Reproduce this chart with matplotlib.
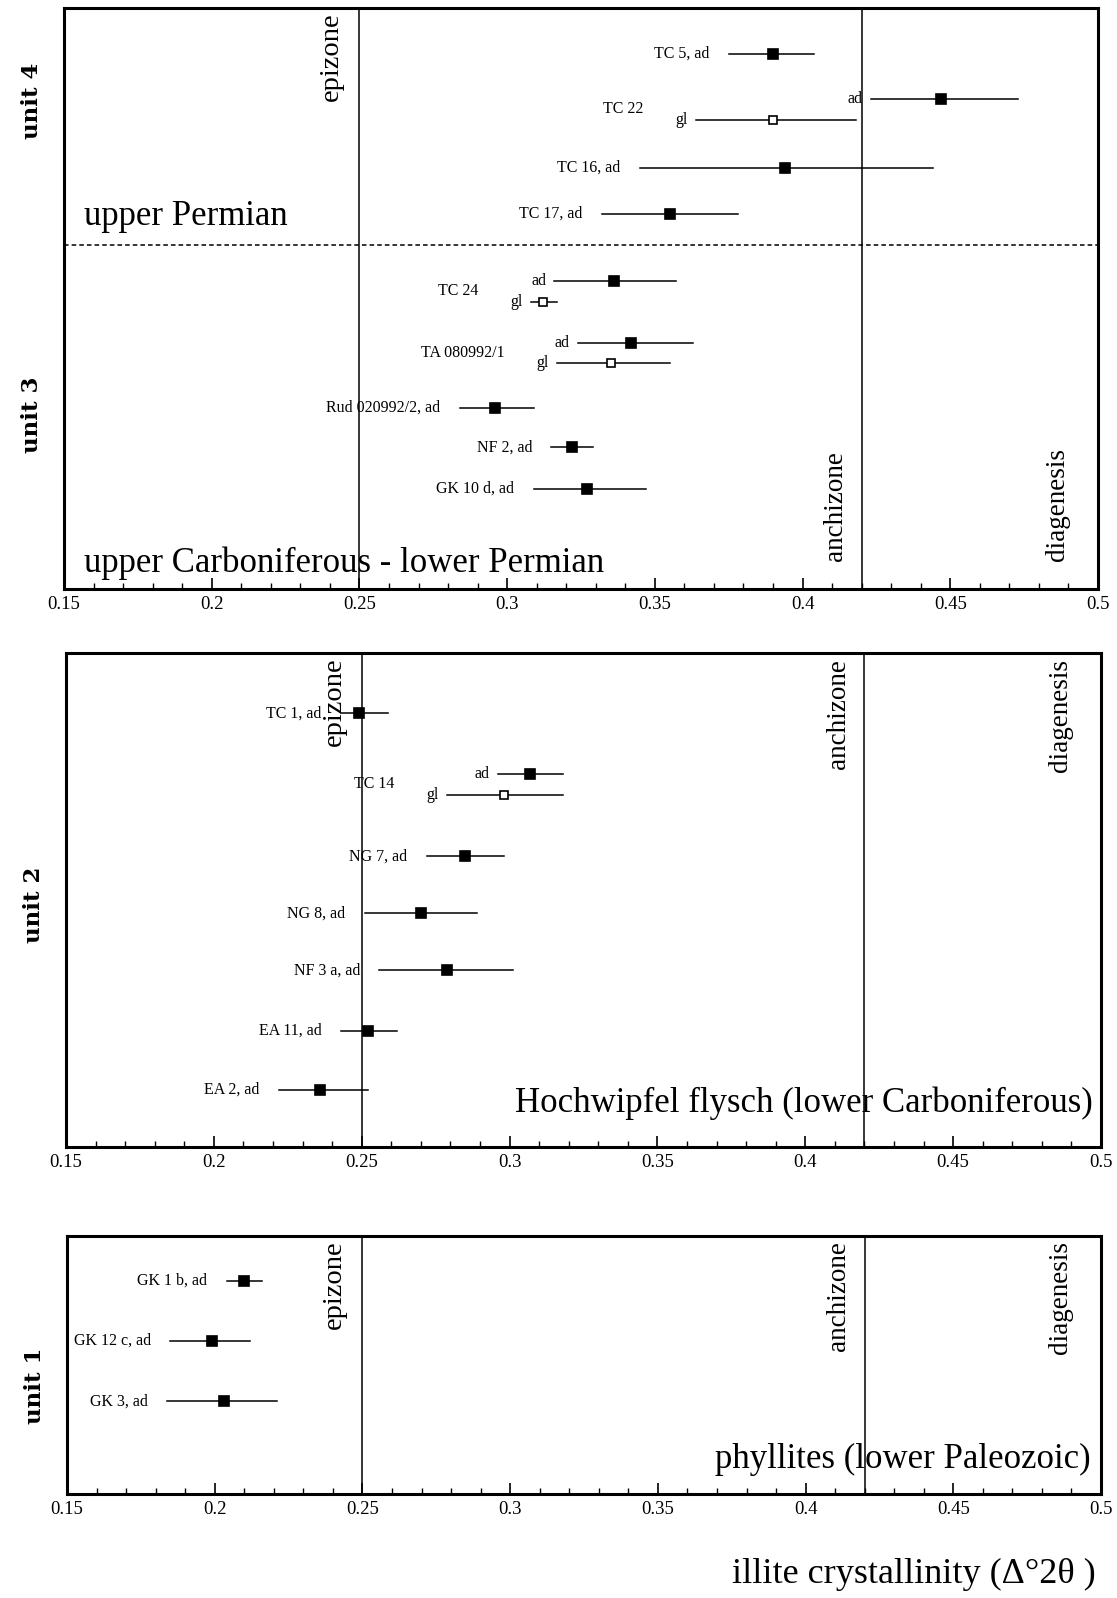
"""
Illite crystallinity of the sampled units (three stacked panels, unit 4/3 on top,
unit 2 in the middle, unit 1 at the bottom).
"""

import matplotlib.pyplot as plt
from matplotlib.ticker import MultipleLocator

SERIF = ["Liberation Serif", "DejaVu Serif"]
plt.rcParams["font.family"] = SERIF

EPIZONE = 0.25
ANCHIZONE = 0.42

# ---- panel 1: units 3 and 4 -------------------------------------------
# row = vertical position inside the panel (0 at bottom, 570 at top)
p1_names = ["TC 5, ad", "ad", "gl", "TC 16, ad", "TC 17, ad", "ad", "gl",
            "ad", "gl", "Rud 020992/2, ad", "NF 2, ad", "GK 10 d, ad"]
p1_rows = [525, 481, 460, 413, 368, 302, 282, 241, 222, 178, 139, 98]
p1_ic = [0.390, 0.447, 0.390, 0.394, 0.355, 0.336, 0.312, 0.342, 0.335, 0.296, 0.322, 0.327]
p1_lo = [0.375, 0.423, 0.364, 0.345, 0.332, 0.316, 0.308, 0.324, 0.317, 0.284, 0.315, 0.309]
p1_hi = [0.404, 0.473, 0.418, 0.444, 0.378, 0.357, 0.317, 0.363, 0.355, 0.309, 0.329, 0.347]
p1_open = [False, False, True, False, False, False, True, False, True, False, False, False]
p1_groups = [("TC 22", 1, 2), ("TC 24", 5, 6), ("TA 080992/1", 7, 8)]
p1_boundary = 337        # upper Permian / lower Permian boundary row

# ---- panel 2: unit 2 --------------------------------------------------
p2_names = ["TC 1, ad", "ad", "gl", "NG 7, ad", "NG 8, ad", "NF 3 a, ad",
            "EA 11, ad", "EA 2, ad"]
p2_rows = [425, 366, 345, 285, 229, 173, 114, 56]
p2_ic = [0.249, 0.307, 0.298, 0.285, 0.270, 0.279, 0.252, 0.236]
p2_lo = [0.243, 0.296, 0.279, 0.272, 0.251, 0.256, 0.243, 0.222]
p2_hi = [0.259, 0.318, 0.318, 0.298, 0.289, 0.301, 0.262, 0.252]
p2_open = [False, False, True, False, False, False, False, False]
p2_groups = [("TC 14", 1, 2)]

# ---- panel 3: unit 1 --------------------------------------------------
p3_names = ["GK 1 b, ad", "GK 12 c, ad", "GK 3, ad"]
p3_rows = [209, 150, 91]
p3_ic = [0.210, 0.199, 0.203]
p3_lo = [0.204, 0.185, 0.184]
p3_hi = [0.216, 0.212, 0.221]
p3_open = [False, False, False]

x_ticks = [0.15, 0.2, 0.25, 0.3, 0.35, 0.4, 0.45, 0.5]


def draw_points(ax, names, rows, ic, lo, hi, is_open, groups=()):
    grouped = set()
    for _, a, b in groups:
        grouped.update([a, b])
    for i in range(len(names)):
        ax.plot([lo[i], hi[i]], [rows[i], rows[i]], color="black", lw=1.1, zorder=2)
        ax.plot(ic[i], rows[i], "s", ms=7 if not is_open[i] else 6,
                mfc="white" if is_open[i] else "black", mec="black", mew=1.2, zorder=3)
        gap = -6 if i in grouped else -14
        ax.annotate(names[i], (lo[i], rows[i]), xytext=(gap, 0), textcoords="offset points",
                    ha="right", va="center", fontsize=11.5)
    for label, a, b in groups:
        ax.annotate(label, (min(lo[a], lo[b]), (rows[a] + rows[b]) / 2),
                    xytext=(-38, 0), textcoords="offset points",
                    ha="right", va="center", fontsize=11.5)


def style_panel(ax, height, unit_labels, zone_at_top=True):
    ax.set_xlim(0.15, 0.5)
    ax.set_ylim(0, height)
    ax.set_yticks([])
    ax.xaxis.set_major_locator(MultipleLocator(0.05))
    ax.xaxis.set_minor_locator(MultipleLocator(0.01))
    ax.set_xticks(x_ticks)
    ax.set_xticklabels([f"{t:g}" for t in x_ticks], fontsize=13.5)
    ax.tick_params(axis="x", which="major", direction="in", length=8, width=1.2, pad=5)
    ax.tick_params(axis="x", which="minor", direction="in", length=4, width=1.0)
    ax.tick_params(top=False, which="both")
    for s in ax.spines.values():
        s.set_linewidth(2.2)
    ax.axvline(EPIZONE, color="black", lw=1.1)
    ax.axvline(ANCHIZONE, color="black", lw=1.1)

    tr = ax.get_xaxis_transform()
    ax.annotate("epizone", (EPIZONE, 1), xycoords=tr, xytext=(-20, -3),
                textcoords="offset points", rotation=90, ha="center", va="top", fontsize=20.5)
    if zone_at_top:
        ypos, dy, va = 1, -4, "top"
    else:
        ypos, dy, va = 0, 20, "bottom"
    ax.annotate("anchizone", (ANCHIZONE, ypos), xycoords=tr, xytext=(-19, dy),
                textcoords="offset points", rotation=90, ha="center", va=va, fontsize=19.5)
    ax.annotate("diagenesis", (0.5, ypos), xycoords=tr, xytext=(-29, dy),
                textcoords="offset points", rotation=90, ha="center", va=va, fontsize=19.5)

    for text, frac in unit_labels:
        ax.text(-0.031, frac, text, transform=ax.transAxes, rotation=90,
                ha="center", va="center", fontsize=16.5, family="DejaVu Serif",
                fontweight="bold")


fig = plt.figure(figsize=(11.17, 15.98), dpi=100)

# panel 1
ax1 = fig.add_axes([0.0573, 0.6314, 0.9257, 0.3636])
draw_points(ax1, p1_names, p1_rows, p1_ic, p1_lo, p1_hi, p1_open, p1_groups)
ax1.axhline(p1_boundary, color="black", lw=1.1, ls=(0, (3, 2)))
style_panel(ax1, 570, [("unit 4", 0.84), ("unit 3", 0.30)], zone_at_top=False)
ax1.text(0.019, p1_boundary + 12, "upper Permian", fontsize=25,
         transform=ax1.get_yaxis_transform(), ha="left", va="bottom")
ax1.text(0.019, 0.015, "upper Carboniferous - lower Permian", fontsize=25,
         transform=ax1.transAxes, ha="left", va="bottom")

# panel 2
ax2 = fig.add_axes([0.0591, 0.2822, 0.9266, 0.3091])
draw_points(ax2, p2_names, p2_rows, p2_ic, p2_lo, p2_hi, p2_open, p2_groups)
style_panel(ax2, 484, [("unit 2", 0.49)])
ax2.text(0.992, 0.055, "Hochwipfel flysch (lower Carboniferous)", fontsize=25,
         transform=ax2.transAxes, ha="right", va="bottom")

# panel 3
ax3 = fig.add_axes([0.0600, 0.0651, 0.9257, 0.1615])
draw_points(ax3, p3_names, p3_rows, p3_ic, p3_lo, p3_hi, p3_open)
style_panel(ax3, 253, [("unit 1", 0.42)])
ax3.text(0.99, 0.07, "phyllites (lower Paleozoic)", fontsize=25,
         transform=ax3.transAxes, ha="right", va="bottom")

fig.text(0.981, 0.0147, "illite crystallinity (\u0394\u00b02\u03b8 )", fontsize=26,
         ha="right", va="center")

fig.savefig("out.png", dpi=100)
print("saved out.png")
